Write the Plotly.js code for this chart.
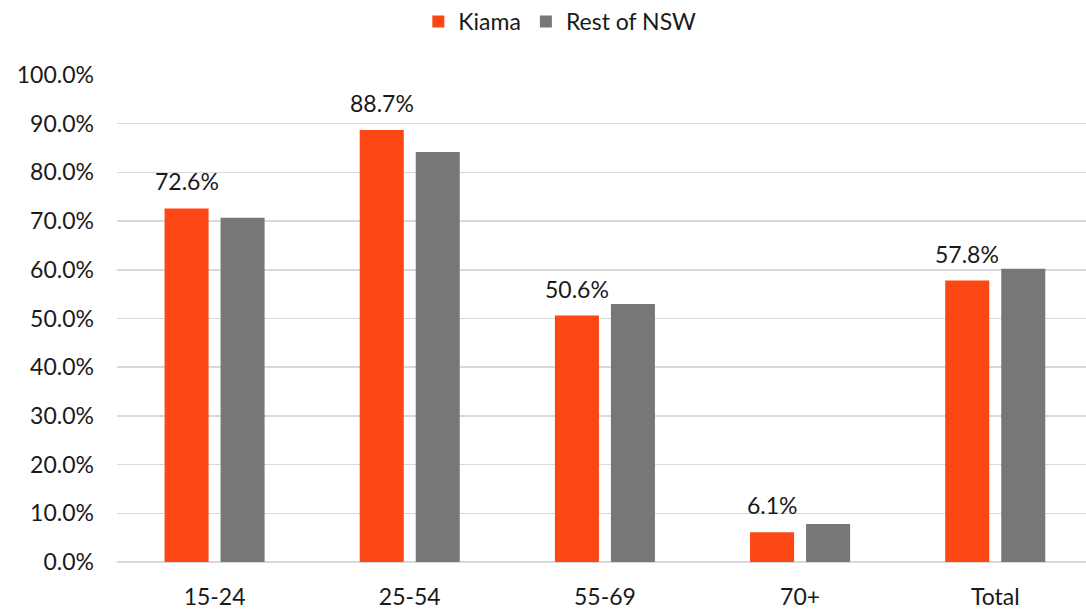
<!DOCTYPE html>
<html><head><meta charset="utf-8">
<script src="https://cdn.plot.ly/plotly-3.0.1.min.js"></script>
<style>html,body{margin:0;padding:0;overflow:hidden;background:#fff}#chart{width:1086px;height:611px}</style>
</head><body><div id="chart"></div>
<script>
const categories = ["15-24", "25-54", "55-69", "70+", "Total"];
const kiama = [72.6, 88.7, 50.6, 6.1, 57.8];
const restOfNSW = [70.7, 84.2, 53.0, 7.8, 60.2];
const yTickVals = [0,10,20,30,40,50,60,70,80,90,100];
const yTickText = yTickVals.map(v => v.toFixed(1) + "%");

const FONT = "Lato, 'Open Sans', sans-serif";
const FS = 23;
const BARGAP = 0.426;
const traces = [
  {type:"bar", name:"Kiama", x:categories, y:kiama,
   marker:{color:"#FC4614"}, hoverinfo:"none"},
  {type:"bar", name:"Rest of NSW", x:categories, y:restOfNSW,
   marker:{color:"#777777"}, hoverinfo:"none"}
];
// data labels for Kiama, centred on the Kiama bar of each group
const groupWidth = 1 - BARGAP;
const annotations = kiama.map((v, i) => ({
  x: i - groupWidth / 4, y: v, xref:"x", yref:"y",
  text: v.toFixed(1) + "%", showarrow:false, yanchor:"bottom", yshift:11,
  font:{family:FONT, size:FS, color:"#1a1a1a"}
}));
const layout = {
  width:1086, height:611,
  margin:{l:117, r:0, t:75, b:49},
  paper_bgcolor:"#fff", plot_bgcolor:"#fff",
  font:{family:FONT, size:FS, color:"#1a1a1a"},
  barmode:"group", bargap:BARGAP, bargroupgap:0.214,
  showlegend:true,
  legend:{orientation:"h", x:0.457, xanchor:"center", y:1, yref:"container", yanchor:"top",
          font:{family:FONT,size:FS,color:"#1a1a1a"}, itemwidth:30, traceorder:"normal"},
  annotations: annotations,
  xaxis:{type:"category", range:[-0.5, 4.465], showgrid:false, zeroline:false,
         showline:false, ticks:"", ticklabelstandoff:19, tickfont:{family:FONT,size:FS,color:"#1a1a1a"}},
  yaxis:{range:[0,100], tickvals:yTickVals, ticktext:yTickText, showgrid:true,
         gridcolor:"#D9D9D9", gridwidth:1.5, zeroline:true, zerolinecolor:"#D9D9D9", zerolinewidth:1.5,
         showline:false, ticks:"", ticklabelstandoff:22, tickfont:{family:FONT,size:FS,color:"#1a1a1a"}}
};
Plotly.newPlot("chart", traces, layout, {displayModeBar:false, staticPlot:true});
</script></body></html>
